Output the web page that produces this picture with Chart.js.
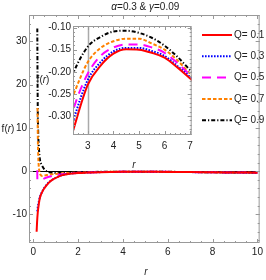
<!DOCTYPE html>
<html><head><meta charset="utf-8">
<script src="https://cdn.jsdelivr.net/npm/chart.js@4.4.1/dist/chart.umd.min.js"></script>
<style>
html,body{margin:0;padding:0;background:#fff;}
#wrap{position:relative;width:266px;height:280px;overflow:hidden;}
#main{position:absolute;left:0;top:0;width:266px;height:280px;}
#inset{position:absolute;left:36px;top:18px;width:162px;height:152px;}
</style></head><body>
<div id="wrap"><canvas id="main" width="266" height="280"></canvas><canvas id="inset" width="162" height="152"></canvas></div>
<script>
// ---------- data ----------
const qValues = [0.1, 0.3, 0.5, 0.7, 0.9];
const titleText = ['α', '=0.3 & ', 'γ', '=0.09'];

const r01 = [0.15,0.17,0.2,0.25,0.3,0.4,0.5,0.6,0.75,0.9,1.1,1.3,1.5,1.75,2,2.45,3,3.5,4,4.5,5,5.5,6,6.5,7,8,9,10];
const f01 = [-14,-11.8,-9.6,-7.5,-6.1,-4.8,-3.9,-3.2,-2.4,-1.85,-1.3,-0.92,-0.7,-0.52,-0.42,-0.328,-0.229,-0.186,-0.159,-0.149,-0.150,-0.157,-0.168,-0.19,-0.215,-0.262,-0.31,-0.36];

const r03 = [0.18,0.2,0.25,0.3,0.4,0.5,0.6,0.75,0.9,1.1,1.3,1.5,1.75,2,2.45,3,3.5,4,4.5,5,5.5,6,6.5,7,8,9,10];
const f03 = [-9.3,-8.4,-7.0,-5.9,-4.7,-3.8,-3.1,-2.35,-1.8,-1.27,-0.9,-0.68,-0.5,-0.4,-0.307,-0.218,-0.178,-0.154,-0.146,-0.146,-0.153,-0.164,-0.187,-0.212,-0.26,-0.31,-0.36];

const r05 = [0.178,0.184,0.3,0.45,0.5,0.6,0.75,0.9,1.1,1.3,1.5,1.75,2,2.45,3,3.5,4,4.5,5,5.5,6,6.5,7,8,9,10];
const f05 = [0.2,-2.7,null,-1.8,-1.65,-1.45,-1.22,-1.03,-0.85,-0.71,-0.6,-0.48,-0.38,-0.282,-0.204,-0.164,-0.145,-0.138,-0.138,-0.145,-0.157,-0.18,-0.207,-0.255,-0.305,-0.355];

const r07 = [0.19,0.2,0.21,0.23,0.26,0.3,0.35,0.4,0.5,0.6,0.75,0.9,1.1,1.3,1.5,1.75,2,2.45,3,3.5,4,4.5,5,5.5,6,6.5,7,8,9,10];
const f07 = [14.6,9.5,6.0,2.6,0.4,-0.6,-1.0,-1.1,-1.0,-0.9,-0.78,-0.68,-0.58,-0.5,-0.44,-0.37,-0.32,-0.25,-0.178,-0.146,-0.131,-0.125,-0.125,-0.136,-0.15,-0.174,-0.204,-0.25,-0.3,-0.35];

const r09 = [0.18,0.19,0.2,0.22,0.25,0.3,0.35,0.4,0.5,0.6,0.75,0.9,1.1,1.3,1.5,1.75,2,2.45,3,3.5,4,4.5,5,5.5,6,6.5,7,8,9,10];
const f09 = [33,22,15,9,5.5,2.6,1.7,1.2,0.4,-0.05,-0.3,-0.4,-0.42,-0.4,-0.37,-0.32,-0.27,-0.2,-0.143,-0.121,-0.109,-0.107,-0.112,-0.123,-0.141,-0.166,-0.196,-0.245,-0.295,-0.345];

const mainXTicks = [0, 2, 4, 6, 8, 10];
const mainYTicks = [-10, 0, 10, 20, 30];
const insetXTicks = [3, 4, 5, 6, 7];
const insetYTicks = [-0.30, -0.25, -0.20, -0.15, -0.10];
const markerR = 3;

// ---------- styles ----------
const FONT = "'Liberation Sans Narrow','Liberation Sans',Arial,sans-serif";
const TXT = '#222';
const FRAME = '#999';
const seriesR = [r01, r03, r05, r07, r09];
const seriesF = [f01, f03, f05, f07, f09];
const styles = [
  {color:'#ff0000', dash:[]},
  {color:'#0000ff', dash:[1.6,1.4]},
  {color:'#ff00ff', dash:[9,6]},
  {color:'#ff8000', dash:[3.5,2]},
  {color:'#000000', dash:[4,2,1.2,2]}
];

function makeDatasets() {
  return qValues.map((q, i) => ({
    label: 'Q= ' + q,
    data: seriesR[i].map((x, k) => ({x: x, y: seriesF[i][k]})),
    borderColor: styles[i].color,
    borderDash: styles[i].dash,
    borderWidth: 2,
    pointRadius: 0,
    fill: false,
    cubicInterpolationMode: 'monotone',
    spanGaps: false
  }));
}

function drawFrameTicks(chart, xMinor, yMinor) {
  const {ctx, chartArea: a, scales: {x, y}} = chart;
  ctx.save();
  ctx.strokeStyle = FRAME; ctx.lineWidth = 1;
  ctx.strokeRect(a.left + 0.5, a.top + 0.5, a.right - a.left - 1, a.bottom - a.top - 1);
  ctx.beginPath();
  const mark = (scale, v, len, isX) => {
    const p = Math.round(scale.getPixelForValue(v)) + 0.5;
    if (isX) {
      ctx.moveTo(p, a.bottom); ctx.lineTo(p, a.bottom - len);
      ctx.moveTo(p, a.top); ctx.lineTo(p, a.top + len);
    } else {
      ctx.moveTo(a.left, p); ctx.lineTo(a.left + len, p);
      ctx.moveTo(a.right, p); ctx.lineTo(a.right - len, p);
    }
  };
  const minors = (scale, step, isX) => {
    const s = Math.ceil(scale.min / step - 1e-6);
    const e = Math.floor(scale.max / step + 1e-6);
    for (let k = s; k <= e; k++) mark(scale, k * step, 2, isX);
  };
  minors(x, xMinor, true); minors(y, yMinor, false);
  x.ticks.forEach(t => mark(x, t.value, 4, true));
  y.ticks.forEach(t => mark(y, t.value, 4, false));
  ctx.stroke();
  ctx.restore();
}

function drawPieces(ctx, pieces, cx, cy, size) {
  let total = 0;
  const fonts = pieces.map(p => (p.it ? 'italic ' : '') + size + 'px ' + FONT);
  pieces.forEach((p, i) => { ctx.font = fonts[i]; total += ctx.measureText(p.t).width; });
  let xx = cx - total / 2;
  ctx.textAlign = 'left'; ctx.textBaseline = 'middle';
  pieces.forEach((p, i) => { ctx.font = fonts[i]; ctx.fillText(p.t, xx, cy); xx += ctx.measureText(p.t).width; });
}

const mainPlugin = {
  id: 'mainDeco',
  beforeDatasetsDraw(chart) {
    const {ctx, chartArea: a, scales: {y}} = chart;
    const p = Math.round(y.getPixelForValue(0)) + 0.5;
    ctx.save();
    ctx.strokeStyle = '#000'; ctx.lineWidth = 1;
    ctx.beginPath(); ctx.moveTo(a.left, p); ctx.lineTo(a.right, p); ctx.stroke();
    ctx.restore();
  },
  afterDraw(chart) {
    const {ctx, chartArea: a} = chart;
    drawFrameTicks(chart, 0.5, 2);
    ctx.save();
    ctx.fillStyle = TXT;
    drawPieces(ctx, [{t:titleText[0], it:true},{t:titleText[1]},{t:titleText[2], it:true},{t:titleText[3]}], (a.left + a.right) / 2 + 1, 7, 10);
    drawPieces(ctx, [{t:'f(', it:false},{t:'r', it:true},{t:')'}], 8, 129, 10);
    drawPieces(ctx, [{t:'r', it:true}], 146, 272, 10);
    chart.data.datasets.forEach((ds, i) => {
      const yy = 35 + i * 21.3;
      ctx.save();
      ctx.strokeStyle = ds.borderColor; ctx.lineWidth = 2; ctx.setLineDash(ds.borderDash);
      ctx.beginPath(); ctx.moveTo(202, yy); ctx.lineTo(232, yy); ctx.stroke();
      ctx.restore();
      ctx.font = '10px ' + FONT; ctx.textAlign = 'left'; ctx.textBaseline = 'middle';
      ctx.fillText(ds.label, 234, yy);
    });
    ctx.restore();
  }
};

const insetPlugin = {
  id: 'insetDeco',
  beforeDraw(chart) {
    const {ctx, chartArea: a} = chart;
    ctx.save(); ctx.fillStyle = '#fff';
    ctx.fillRect(a.left, a.top, a.right - a.left, a.bottom - a.top);
    ctx.restore();
  },
  beforeDatasetsDraw(chart) {
    const {ctx, chartArea: a, scales: {x}} = chart;
    const p = Math.round(x.getPixelForValue(markerR)) + 0.5;
    ctx.save(); ctx.strokeStyle = '#aaa'; ctx.lineWidth = 1.5;
    ctx.beginPath(); ctx.moveTo(p, a.top); ctx.lineTo(p, a.bottom); ctx.stroke();
    ctx.restore();
  },
  afterDraw(chart) {
    const {ctx} = chart;
    drawFrameTicks(chart, 0.2, 0.01);
    ctx.save(); ctx.fillStyle = TXT;
    drawPieces(ctx, [{t:'f('},{t:'r', it:true},{t:')'}], 7, 62, 10);
    drawPieces(ctx, [{t:'r', it:true}], 98, 147, 10);
    ctx.restore();
  }
};

function axis(min, max, ticksArr, fitFn, fmt, pad) {
  return {
    type: 'linear', min: min, max: max,
    afterBuildTicks: s => { s.ticks = ticksArr.map(v => ({value: v})); },
    afterFit: fitFn,
    grid: {display: false, drawTicks: false},
    border: {display: false},
    ticks: {font: {family: FONT, size: 10}, color: TXT, padding: pad, maxRotation: 0, autoSkip: false,
            callback: fmt}
  };
}

Chart.defaults.font.family = FONT;

new Chart(document.getElementById('main'), {
  type: 'line',
  data: {datasets: makeDatasets()},
  options: {
    responsive: false, animation: false, events: [],
    layout: {padding: {left: 0, right: 4, top: 15, bottom: 0}},
    plugins: {legend: {display: false}, tooltip: {enabled: false}, title: {display: false}},
    scales: {
      x: axis(-0.19, 10.1, mainXTicks, s => { s.height = 37; }, v => String(v), 3),
      y: axis(-16.6, 36.1, mainYTicks, s => { s.width = 29; }, v => String(v), 2)
    }
  },
  plugins: [mainPlugin]
});

new Chart(document.getElementById('inset'), {
  type: 'line',
  data: {datasets: makeDatasets()},
  options: {
    responsive: false, animation: false, events: [],
    layout: {padding: {left: 0, right: 5, top: 2, bottom: 0}},
    plugins: {legend: {display: false}, tooltip: {enabled: false}, title: {display: false}},
    scales: {
      x: axis(2.42, 7.06, insetXTicks, s => { s.height = 35; }, v => String(v), 5),
      y: axis(-0.343, -0.0964, insetYTicks, s => { s.width = 37; }, v => v.toFixed(2), 2)
    }
  },
  plugins: [insetPlugin]
});
</script>
</body></html>
